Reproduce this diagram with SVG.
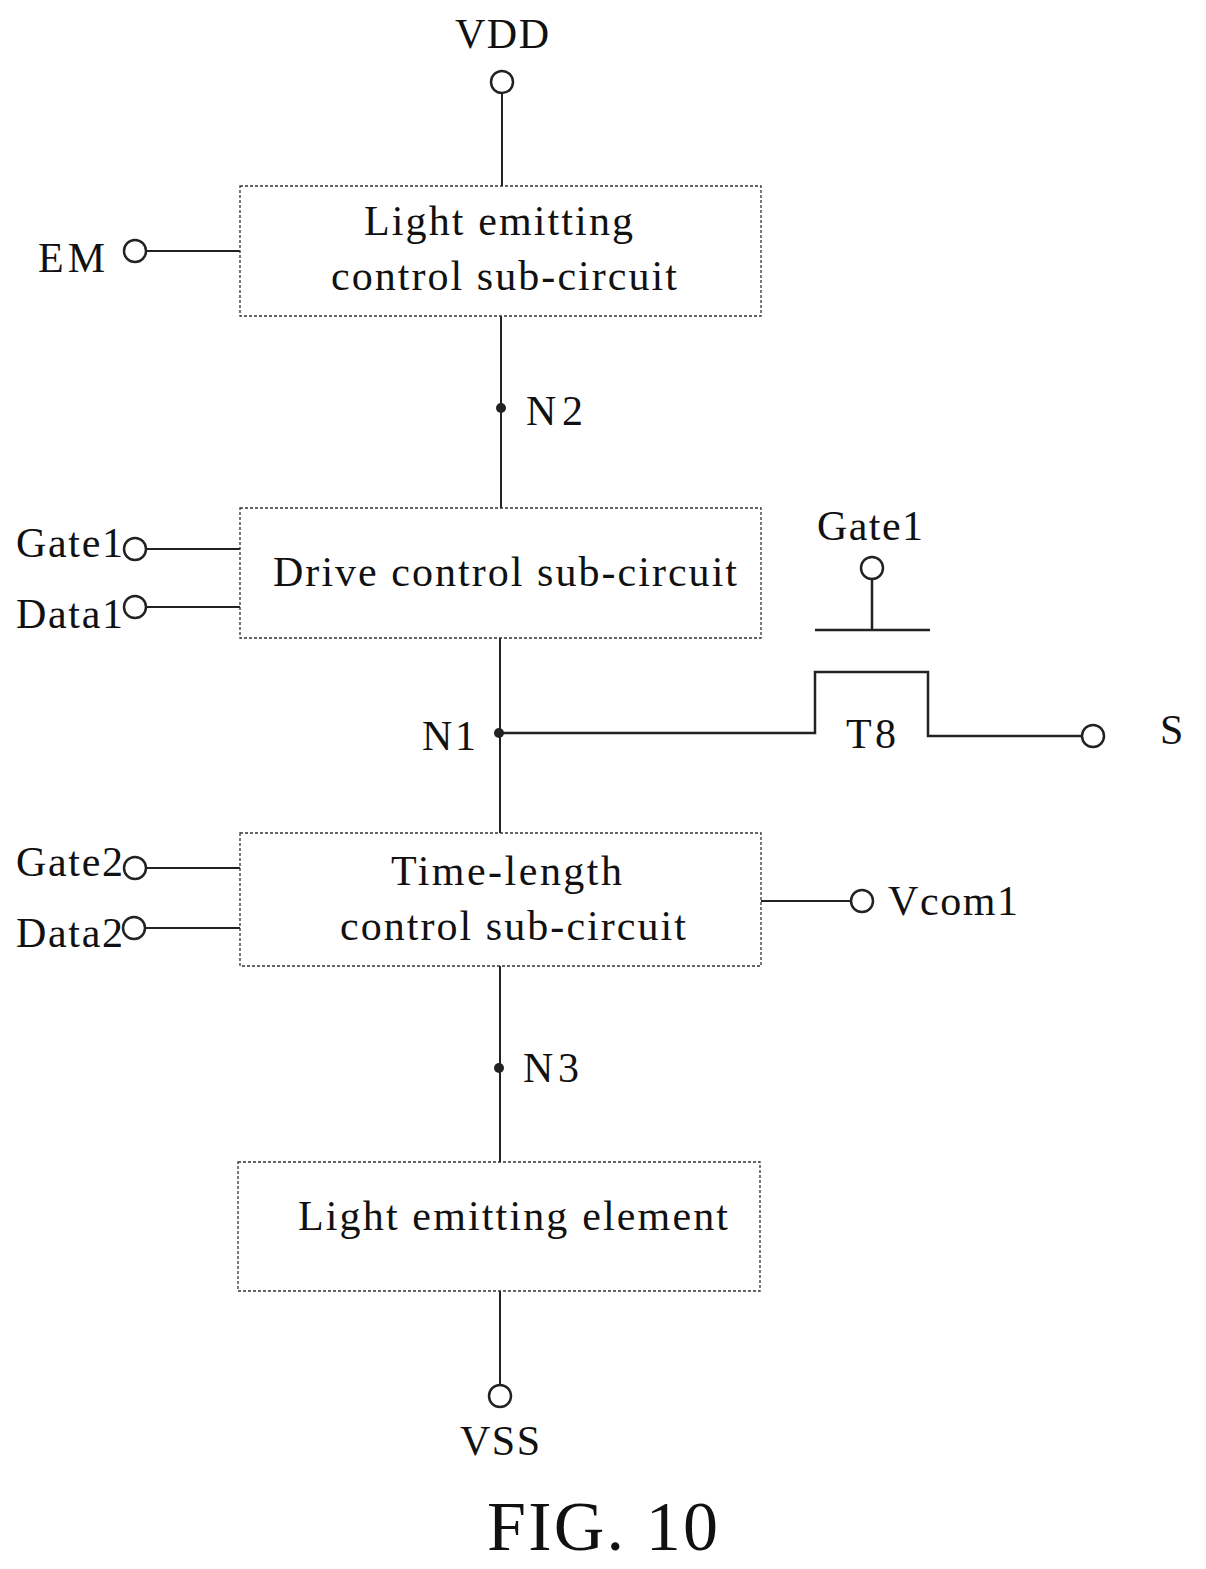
<svg xmlns="http://www.w3.org/2000/svg" width="1206" height="1569" viewBox="0 0 1206 1569">
<style>
.box{fill:#fff;stroke:#333;stroke-width:1.3;stroke-dasharray:3 2}
.w{fill:none;stroke:#222;stroke-width:2}
.t{fill:none;stroke:#222;stroke-width:2.5}
.c{fill:#fff;stroke:#222;stroke-width:2.5}
text{font-family:"Liberation Serif",serif;font-size:42px;fill:#111}
.m{text-anchor:middle}
</style>
<rect width="1206" height="1569" fill="#fff"/>
<g id="connectors">
<path class="w" d="M502 93V186M501 316V508M500 638V833M500 966V1162M500 1291V1385"/>
<path class="w" d="M146 251H240M146 549H240M146 607H240M146 868H240M145 928H240M761 901H851"/>
<path class="t" d="M499 733H815V672H928V736H1082"/>
<path class="t" d="M815 630H930M872 630V580"/>
</g>
<g id="n-vdd"><circle class="c" cx="502" cy="82" r="11"/><text x="455" y="48" textLength="94">VDD</text></g>
<g id="n-em"><circle class="c" cx="135" cy="251" r="11"/><text x="38" y="272" textLength="67">EM</text></g>
<g id="n-lec"><rect class="box" x="240" y="186" width="521" height="130"/><text x="364" y="235" textLength="269">Light emitting</text><text x="331" y="290" textLength="346">control sub-circuit</text></g>
<g id="n-n2"><circle cx="501" cy="408" r="5" fill="#222"/><text x="526" y="425" textLength="57">N2</text></g>
<g id="n-g1"><circle class="c" cx="135" cy="549" r="11"/><text x="16" y="557" textLength="107">Gate1</text></g>
<g id="n-d1"><circle class="c" cx="135" cy="607" r="11"/><text x="16" y="628" textLength="107">Data1</text></g>
<g id="n-dcs"><rect class="box" x="240" y="508" width="521" height="130"/><text x="273" y="586" textLength="464">Drive control sub-circuit</text></g>
<g id="n-g1b"><circle class="c" cx="872" cy="568" r="11"/><text x="817" y="540" textLength="106">Gate1</text></g>
<g id="n-n1"><circle cx="499" cy="733" r="5" fill="#222"/><text x="422" y="750" textLength="54">N1</text></g>
<g id="n-t8"><text x="846" y="748" textLength="50">T8</text></g>
<g id="n-s"><circle class="c" cx="1093" cy="736" r="11"/><text x="1160" y="744">S</text></g>
<g id="n-g2"><circle class="c" cx="135" cy="868" r="11"/><text x="16" y="876" textLength="107">Gate2</text></g>
<g id="n-d2"><circle class="c" cx="134" cy="928" r="11"/><text x="16" y="947" textLength="107">Data2</text></g>
<g id="n-tlc"><rect class="box" x="240" y="833" width="521" height="133"/><text x="391" y="885" textLength="231">Time-length</text><text x="340" y="940" textLength="346">control sub-circuit</text></g>
<g id="n-vcom"><circle class="c" cx="862" cy="901" r="11"/><text x="888" y="915" textLength="130">Vcom1</text></g>
<g id="n-n3"><circle cx="499" cy="1068" r="5" fill="#222"/><text x="523" y="1082" textLength="56">N3</text></g>
<g id="n-lee"><rect class="box" x="238" y="1162" width="522" height="129"/><text x="298" y="1230" textLength="430">Light emitting element</text></g>
<g id="n-vss"><circle class="c" cx="500" cy="1396" r="11"/><text x="460" y="1455" textLength="80">VSS</text></g>
<text x="487" y="1550" style="font-size:70px" textLength="231">FIG. 10</text>
</svg>
